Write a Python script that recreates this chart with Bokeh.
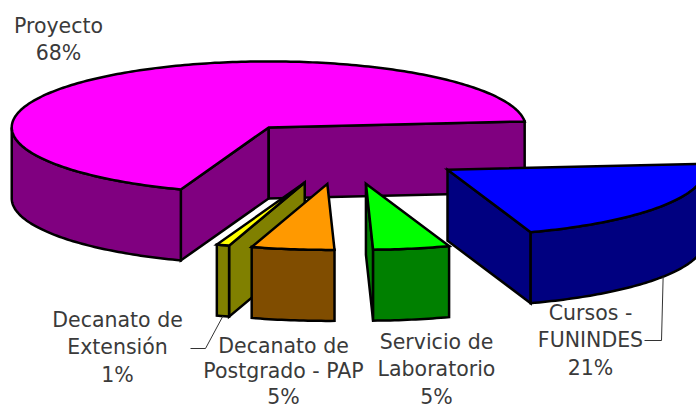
import math
from bokeh.plotting import figure
from bokeh.models import Range1d
from bokeh.core.properties import value
from bokeh.embed import file_html
from bokeh.resources import INLINE

# data
categories = ["Proyecto", "Cursos - FUNINDES", "Servicio de Laboratorio", "Decanato de Postgrado - PAP", "Decanato de Extensión"]
shares = [68.0, 21.2, 4.8, 5.2, 0.8]
first_slice_angle = 200.0

# style
top_colors = ["#FF00FF", "#0000FF", "#00FF00", "#FF9900", "#FFFF00"]
side_colors = ["#800080", "#000080", "#008000", "#804D00", "#808000"]
draw_order = [0, 1, 4, 2, 3]
TEXT = "#3a3a3a"
FONT = "DejaVu Sans"
FONT_PX = 20.5

# projection, in page pixels
CX, CY = 343.5, 152.0
RX, RY = 257.0, 66.0
DEPTH = 71.0
EXPLODE = 0.48
W, H = 696, 409

p = figure(width=W, height=H, output_backend="svg", toolbar_location=None,
           x_range=Range1d(0, W), y_range=Range1d(H, 0), min_border=0,
           outline_line_color=None, background_fill_color="white", border_fill_color="white")
p.axis.visible = False
p.grid.visible = False


def on_rim(t):
    r = math.radians(t)
    return RX * math.sin(r), -RY * math.cos(r)


# sweep of each slice, clockwise
slices = []
a = first_slice_angle
for v in shares:
    b = a + v * 3.6
    mid = (a + b) / 2
    mx, my = on_rim(mid)
    slices.append((a, b, CX + EXPLODE * mx, CY + EXPLODE * my, mid))
    a = b


def arc(cx, cy, a, b, dy=0.0):
    n = max(2, int(abs(b - a)) + 2)
    ts = [a + (b - a) * i / (n - 1) for i in range(n)]
    return [cx + on_rim(t)[0] for t in ts], [cy + on_rim(t)[1] + dy for t in ts]


def draw(xs, ys, color):
    p.patch(xs, ys, fill_color=color, line_color="black", line_width=2.5, line_join="miter")


def cut_face(cx, cy, t, color):
    ex, ey = on_rim(t)
    draw([cx, cx + ex, cx + ex, cx], [cy, cy + ey, cy + ey + DEPTH, cy + DEPTH], color)


for i in draw_order:
    a, b, cx, cy, mid = slices[i]
    if 180 < a % 360 < 360:
        cut_face(cx, cy, a, side_colors[i])
    if 0 < b % 360 < 180:
        cut_face(cx, cy, b, side_colors[i])
    # outer wall: only the part turned toward the viewer
    for lo, hi in ((90, 270), (450, 630)):
        l, h = max(a, lo), min(b, hi)
        if l < h:
            tx, ty = arc(cx, cy, l, h)
            bx, by = arc(cx, cy, l, h, DEPTH)
            draw(tx + bx[::-1], ty + by[::-1], side_colors[i])
    tx, ty = arc(cx, cy, a, b)
    draw([cx] + tx, [cy] + ty, top_colors[i])

# labels: lines and their centres
label_lines = [
    ["Proyecto", "68%"],
    ["Cursos -", "FUNINDES", "21%"],
    ["Servicio de", "Laboratorio", "5%"],
    ["Decanato de", "Postgrado - PAP", "5%"],
    ["Decanato de", "Extensión", "1%"],
]
label_x = [58, 590, 436, 283, 117]
label_first_y = [25, 312, 341, 345, 319]
label_pitch = [27.5, 27.5, 27.5, 25.5, 27.5]

for lines, x, y0, pitch in zip(label_lines, label_x, label_first_y, label_pitch):
    for k, s in enumerate(lines):
        p.text([x], [y0 + k * pitch], text=[s], text_font=value(FONT), text_font_size=f"{FONT_PX}px",
               text_color=TEXT, text_align="center", text_baseline="middle")

# leader lines from slice wall to label
elbows = {1: [(661, 340), (644, 340)], 4: [(205, 348), (190, 348)]}
for i, pts in elbows.items():
    a, b, cx, cy, mid = slices[i]
    mx, my = on_rim(mid)
    p.line([cx + mx] + [q[0] for q in pts], [cy + my + DEPTH] + [q[1] for q in pts],
           line_color="#333333", line_width=1)

open("out.html", "w").write(file_html(p, INLINE))
